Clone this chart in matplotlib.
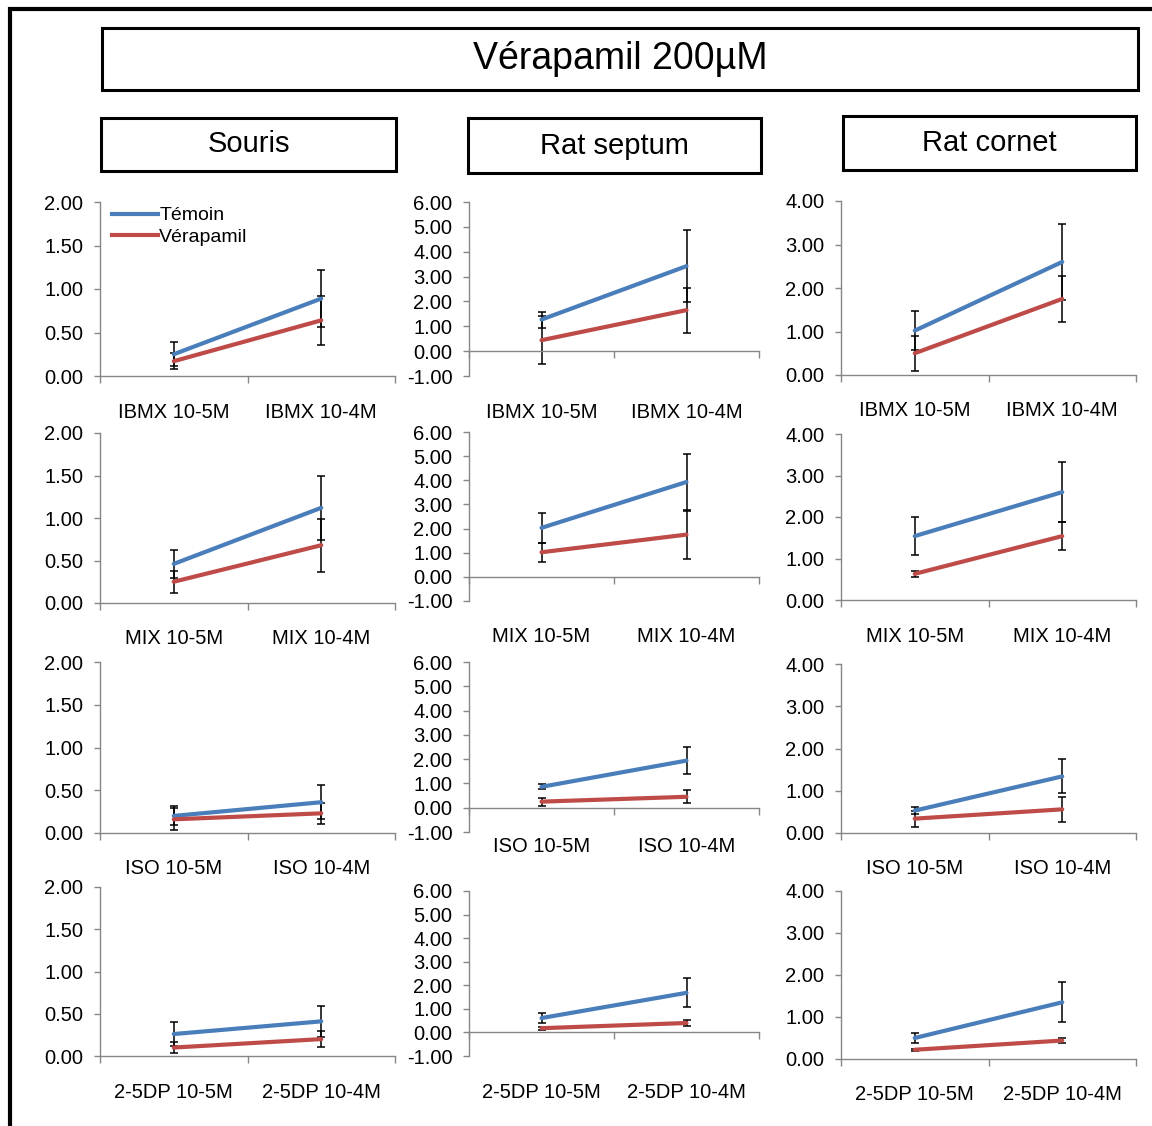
import matplotlib
matplotlib.use("Agg")
import matplotlib.pyplot as plt
from matplotlib.patches import Rectangle
from matplotlib.lines import Line2D

plt.rcParams['font.family'] = ['Liberation Sans', 'DejaVu Sans']

# ---- data ----
species = ["Souris", "Rat septum", "Rat cornet"]
drugs = ["IBMX", "MIX", "ISO", "2-5DP"]
concs = ["10-5M", "10-4M"]
series_names = ["Témoin", "Vérapamil"]

# one row per drug, [10-5M, 10-4M]
temoin_souris = [[0.25, 0.89], [0.46, 1.12], [0.20, 0.36], [0.26, 0.41]]
temoin_souris_err = [[0.14, 0.33], [0.16, 0.38], [0.11, 0.20], [0.14, 0.18]]
verap_souris = [[0.17, 0.64], [0.25, 0.68], [0.16, 0.23], [0.10, 0.20]]
verap_souris_err = [[0.09, 0.28], [0.13, 0.31], [0.13, 0.12], [0.07, 0.09]]

temoin_septum = [[1.27, 3.42], [2.03, 3.93], [0.86, 1.94], [0.61, 1.68]]
temoin_septum_err = [[0.32, 1.45], [0.62, 1.15], [0.10, 0.55], [0.21, 0.62]]
verap_septum = [[0.44, 1.65], [1.02, 1.75], [0.25, 0.45], [0.18, 0.40]]
verap_septum_err = [[0.96, 0.90], [0.40, 0.99], [0.17, 0.27], [0.07, 0.12]]

temoin_cornet = [[1.02, 2.60], [1.54, 2.60], [0.53, 1.34], [0.50, 1.35]]
temoin_cornet_err = [[0.45, 0.87], [0.46, 0.72], [0.08, 0.40], [0.13, 0.48]]
verap_cornet = [[0.50, 1.75], [0.63, 1.54], [0.34, 0.56], [0.22, 0.44]]
verap_cornet_err = [[0.40, 0.53], [0.07, 0.33], [0.19, 0.30], [0.03, 0.05]]

y_limits = [(0, 2), (-1, 6), (0, 4)]
y_steps = [0.5, 1.0, 1.0]

temoin = [temoin_souris, temoin_septum, temoin_cornet]
temoin_err = [temoin_souris_err, temoin_septum_err, temoin_cornet_err]
verap = [verap_souris, verap_septum, verap_cornet]
verap_err = [verap_souris_err, verap_septum_err, verap_cornet_err]

# ---- layout in pixels ----
W, H = 1152, 1126
BLUE = "#4A7EBB"
RED = "#BE4B48"
GRAY = "#868686"

col_x = [(100, 395), (469, 759), (841, 1136)]
row_tops = [[202, 202, 201], [433, 432, 434], [662, 662, 664], [887, 891, 891]]
row_bottoms = [[376, 376, 375], [603, 601, 600], [833, 832, 833], [1056, 1056, 1059]]


def fig_box(l, t, r, b):
    return [l / W, 1 - b / H, (r - l) / W, (b - t) / H]


def add_frame(fig, l, t, r, b, lw=2.2):
    fig.add_artist(Rectangle((l / W, 1 - b / H), (r - l) / W, (b - t) / H,
                             transform=fig.transFigure, fill=False,
                             edgecolor="black", linewidth=lw))


fig = plt.figure(figsize=(W / 100, H / 100), dpi=100)
fig.patch.set_facecolor("white")

# outer frame (only its left and top edges fall inside the picture)
add_frame(fig, 10, 9, W + 30, H + 30, lw=3)

# title boxes
add_frame(fig, 102, 28, 1138, 90)
fig.text(620 / W, 1 - 59 / H, "Vérapamil 200µM", ha="center", va="center", fontsize=27)
head_boxes = [(101, 118, 396, 171), (468, 118, 761, 173), (843, 116, 1136, 170)]
for name, (l, t, r, b) in zip(species, head_boxes):
    add_frame(fig, l, t, r, b)
    fig.text((l + r) / 2 / W, 1 - ((t + b) / 2) / H, name, ha="center", va="center", fontsize=21)

for r, drug in enumerate(drugs):
    for c in range(3):
        l, rr = col_x[c]
        ax = fig.add_axes(fig_box(l, row_tops[r][c], rr, row_bottoms[r][c]))
        xs = [0, 1]
        ax.errorbar(xs, temoin[c][r], yerr=temoin_err[c][r], color=BLUE, lw=3,
                    ecolor="black", elinewidth=1.1, capsize=3, capthick=1.1,
                    solid_capstyle="round", label=series_names[0])
        ax.errorbar(xs, verap[c][r], yerr=verap_err[c][r], color=RED, lw=3,
                    ecolor="black", elinewidth=1.1, capsize=3, capthick=1.1,
                    solid_capstyle="round", label=series_names[1])

        lo, hi = y_limits[c]
        ax.set_ylim(lo, hi)
        ax.set_xlim(-0.5, 1.5)
        n = int(round((hi - lo) / y_steps[c]))
        ax.set_yticks([lo + i * y_steps[c] for i in range(n + 1)])
        ax.yaxis.set_major_formatter(plt.FormatStrFormatter("%.2f"))

        for side in ["top", "right"]:
            ax.spines[side].set_visible(False)
        for side in ["left", "bottom"]:
            ax.spines[side].set_color(GRAY)
            ax.spines[side].set_linewidth(1.0)
        if lo < 0:
            ax.spines["bottom"].set_position(("data", 0))

        ax.set_xticks([])
        ax.set_xticks([-0.5, 0.5, 1.5], minor=True)
        ax.tick_params(axis="x", which="minor", direction="out", length=5,
                       color=GRAY, width=1.0, labelbottom=False)
        ax.tick_params(axis="y", direction="out", length=4, color=GRAY, width=1.0,
                       labelsize=14.5, pad=8)
        ax.patch.set_alpha(0)

        offset = 14 if (c == 1 and r == 2) else 36
        for i, conc in enumerate(concs):
            ax.annotate("{} {}".format(drug, conc), xy=(i, 0),
                        xycoords=("data", "axes fraction"),
                        xytext=(0, -offset * 0.72), textcoords="offset points",
                        ha="center", va="center", fontsize=14.5)

        if r == 0 and c == 0:
            ax.legend(loc="upper left", bbox_to_anchor=(0.0, 1.04), frameon=False,
                      fontsize=14, handlelength=2.4, handletextpad=0.05,
                      labelspacing=0.2, borderaxespad=0.2,
                      handles=[Line2D([], [], color=BLUE, lw=3),
                               Line2D([], [], color=RED, lw=3)],
                      labels=series_names)

fig.savefig("out.png", dpi=100, facecolor="white")
